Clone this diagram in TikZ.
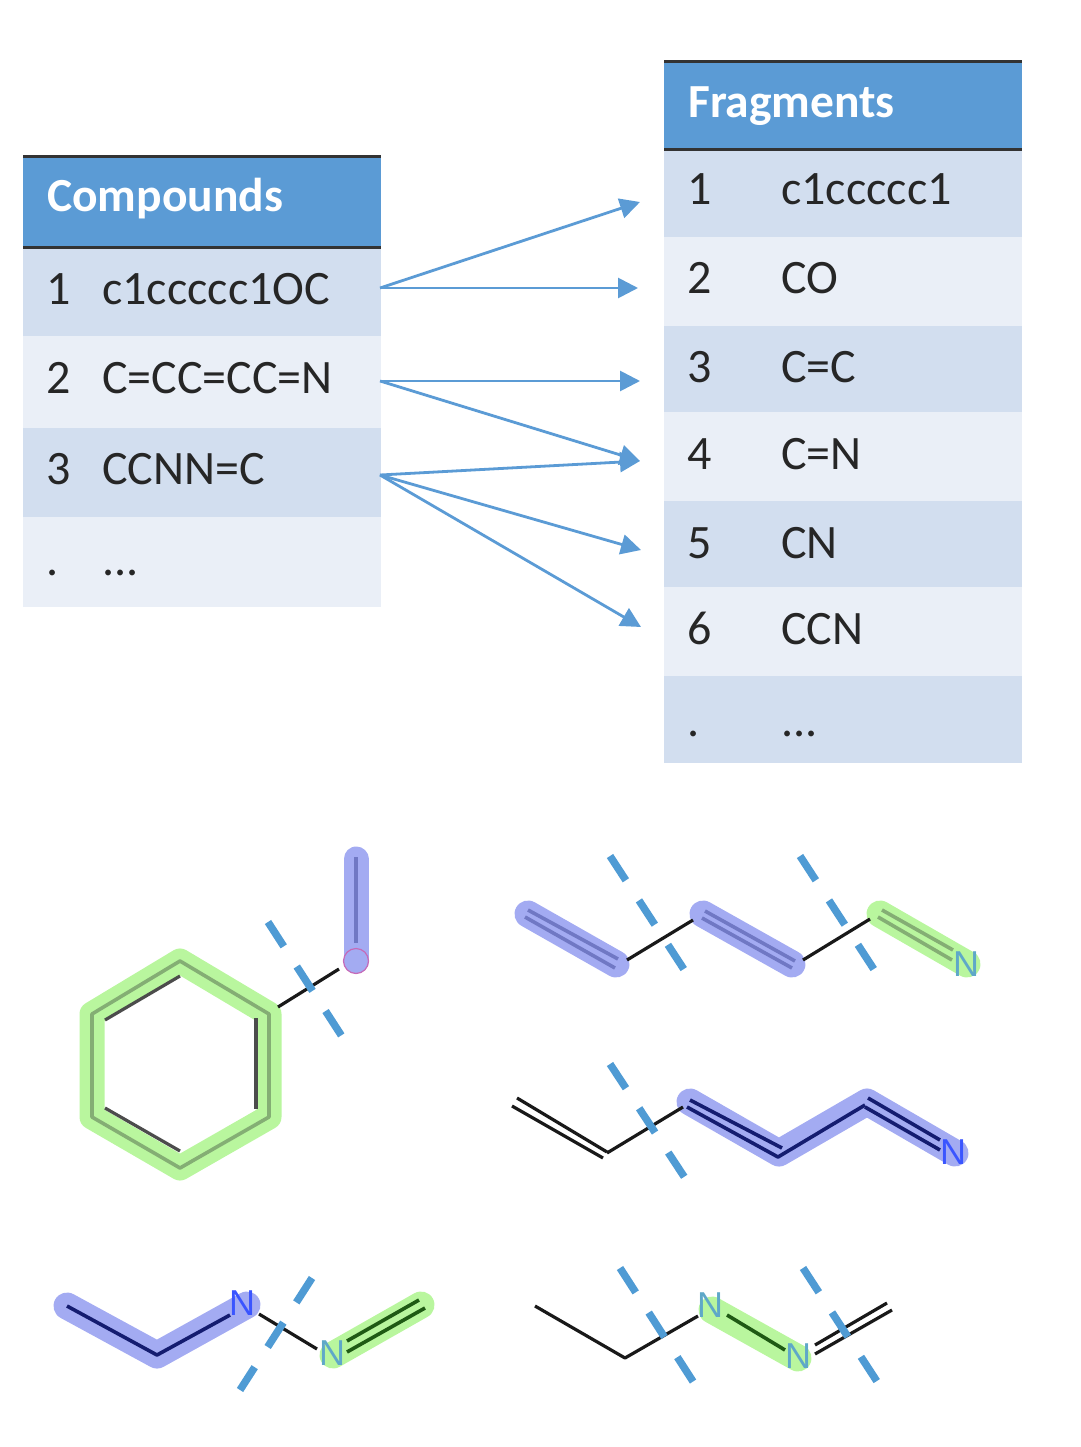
\documentclass[tikz,border=0pt]{standalone}
\usepackage{fontspec}
\setmainfont{Carlito}
\newfontfamily\atomfont{Liberation Sans}
\usepackage{tikz}
\usetikzlibrary{arrows.meta,positioning}
\definecolor{headblue}{HTML}{5B9BD5}
\definecolor{rowdk}{HTML}{D2DEEF}
\definecolor{rowlt}{HTML}{EAEFF7}
\definecolor{hlb}{HTML}{A3ABF2}
\definecolor{hlg}{HTML}{B9F69E}
\definecolor{cutblue}{HTML}{4F9BD4}
\definecolor{softblue}{HTML}{7078C4}
\definecolor{softgreen}{HTML}{84AE74}
\definecolor{navy}{HTML}{141C70}
\definecolor{darkgreen}{HTML}{1F5A14}
\definecolor{atomblue}{HTML}{3A55FF}
\definecolor{atomteal}{HTML}{5FA8C8}

\begin{document}
\begin{tikzpicture}[
    x=1pt, y=-1pt,
    head/.style={fill=headblue, minimum width=358pt, minimum height=91pt, inner sep=0pt, outer sep=0pt, anchor=north west},
    rowdark/.style={fill=rowdk, minimum width=358pt, inner sep=0pt, outer sep=0pt},
    rowlight/.style={fill=rowlt, minimum width=358pt, inner sep=0pt, outer sep=0pt},
    rule/.style={line width=3pt, draw=black!80},
    headtxt/.style={anchor=base west, inner sep=0pt, text=white, font=\fontsize{47.5}{50}\selectfont\bfseries},
    txt/.style={anchor=base west, inner sep=0pt, text=black!85, font=\fontsize{48}{50}\selectfont},
    arrow/.style={-{Triangle[length=20pt,width=20pt]}, line width=2.8pt, draw=headblue},
    bond/.style={line width=3.2pt, draw=black!90},
    bondblue/.style={line width=3.6pt, draw=softblue},
    bondnavy/.style={line width=3.6pt, draw=navy},
    bondgreen/.style={line width=3.6pt, draw=softgreen},
    bonddark/.style={line width=3.6pt, draw=darkgreen},
    hlblue/.style={line width=27pt, draw=hlb, line cap=round, line join=round},
    hlgreen/.style={line width=27pt, draw=hlg, line cap=round, line join=round},
    cut/.style={line width=7.5pt, draw=cutblue, dash pattern=on 29pt off 24pt},
    atom/.style={inner sep=0pt, font=\fontsize{36}{36}\selectfont\atomfont},
]
\useasboundingbox (0,0) rectangle (1080,1447);

% Compounds table
\node[head] (cmphead) at (23,157) {};
\node[rowdark, minimum height=88pt, below=0pt of cmphead] (cmp1) {};
\node[rowlight, minimum height=92pt, below=0pt of cmp1] (cmp2) {};
\node[rowdark, minimum height=89pt, below=0pt of cmp2] (cmp3) {};
\node[rowlight, minimum height=90pt, below=0pt of cmp3] (cmp4) {};
\draw[rule] (cmphead.north west) -- (cmphead.north east);
\draw[rule] (cmphead.south west) -- (cmphead.south east);
\node[headtxt] at (47,212) {Compounds};
\node[txt] at (46,304) {1};
\node[txt] at (102,304) {c1ccccc1OC};
\node[txt] at (46,393) {2};
\node[txt] at (102,393) {C=CC=CC=N};
\node[txt] at (46,484) {3};
\node[txt] at (102,484) {CCNN=C};
\node[txt] at (46,575) {.};
\node[txt] at (102,575) {...};

% Fragments table
\node[head, minimum height=88pt] (frghead) at (664,62) {};
\node[rowdark, minimum height=87pt, below=0pt of frghead] (frg1) {};
\node[rowlight, minimum height=89pt, below=0pt of frg1] (frg2) {};
\node[rowdark, minimum height=86pt, below=0pt of frg2] (frg3) {};
\node[rowlight, minimum height=89pt, below=0pt of frg3] (frg4) {};
\node[rowdark, minimum height=86pt, below=0pt of frg4] (frg5) {};
\node[rowlight, minimum height=89pt, below=0pt of frg5] (frg6) {};
\node[rowdark, minimum height=87pt, below=0pt of frg6] (frg7) {};
\draw[rule] (frghead.north west) -- (frghead.north east);
\draw[rule] (frghead.south west) -- (frghead.south east);
\node[headtxt] at (688,118) {Fragments};
\node[txt] at (687,205) {1};
\node[txt] at (781,205) {c1ccccc1};
\node[txt] at (687,293) {2};
\node[txt] at (781,293) {CO};
\node[txt] at (687,382) {3};
\node[txt] at (781,382) {C=C};
\node[txt] at (687,469) {4};
\node[txt] at (781,469) {C=N};
\node[txt] at (687,558) {5};
\node[txt] at (781,558) {CN};
\node[txt] at (687,644) {6};
\node[txt] at (781,644) {CCN};
\node[txt] at (687,736) {.};
\node[txt] at (781,736) {...};

% Arrows between the tables
\coordinate (src1) at (380,288);
\coordinate (src2) at (380,381);
\coordinate (src3) at (380,475);
\coordinate (dst1) at (640,202);
\coordinate (dst2) at (638,288);
\coordinate (dst3) at (640,381);
\coordinate (dst4) at (640,461);
\coordinate (dst5) at (641,550);
\coordinate (dst6) at (641,627);
\draw[arrow] (src1) -- (dst1);
\draw[arrow] (src1) -- (dst2);
\draw[arrow] (src2) -- (dst3);
\draw[arrow] (src2) -- (dst4);
\draw[arrow] (src3) -- (dst4);
\draw[arrow] (src3) -- (dst5);
\draw[arrow] (src3) -- (dst6);

% Ring with cut bond
\draw[hlgreen, line width=25pt] (180,961) -- (269,1014) -- (269,1117) -- (180,1168) -- (92,1117) -- (92,1014) -- cycle;
\draw[hlblue, line width=25pt] (356,859) -- (356,961);
\draw[bondgreen, line join=round] (180,961) -- (269,1014) -- (269,1117) -- (180,1168) -- (92,1117) -- (92,1014) -- cycle;
\draw[bond, black!70] (105,1020) -- (180,976);
\draw[bond, black!70] (256,1018) -- (256,1109);
\draw[bond, black!70] (105,1108) -- (180,1151);
\draw[bond] (278,1007) -- (339,969);
\draw[bondblue] (356,857) -- (356,943);
\node[circle, draw=magenta!40!hlb, fill=hlb, line width=1.2pt, minimum size=25pt, inner sep=0pt] (oxy) at (356,961) {};
\draw[cut] (268,922) -- (343,1038);

% Lower left chain
\draw[hlblue] (67,1306) -- (157,1355) -- (247,1305);
\draw[hlgreen] (333,1355) -- (421,1305);
\draw[bondnavy, line join=round] (67,1306) -- (157,1355) -- (230,1315);
\draw[bond] (259,1314) -- (317,1349);
\draw[bonddark] (347,1341) -- (419,1300);
\draw[bonddark] (347,1352) -- (425,1308);
\node[atom, text=atomblue] (n1a) at (242,1303) {N};
\node[atom, text=atomteal] (n1b) at (332,1353) {N};
\draw[cut] (312,1278) -- (240,1390);

% Top right chain
\draw[hlblue] (528,914) -- (616,964);
\draw[hlblue] (703,914) -- (792,964);
\draw[hlgreen] (880,914) -- (967,964);
\draw[bondblue] (528,910) -- (618,959);
\draw[bondblue] (525,917) -- (615,968);
\draw[bond] (627,960) -- (693,920);
\draw[bondblue] (705,911) -- (795,961);
\draw[bondblue] (702,918) -- (792,968);
\draw[bond] (803,960) -- (870,919);
\draw[bondgreen] (882,910) -- (953,950);
\draw[bondgreen] (878,917) -- (952,960);
\node[atom, text=atomteal] (n2) at (966,964) {N};
\draw[cut] (610,856) -- (685,971);
\draw[cut] (800,856) -- (875,971);

% Middle right chain
\draw[hlblue] (690,1102) -- (779,1153) -- (867,1102) -- (955,1153);
\draw[bond] (517,1098) -- (607,1152);
\draw[bond] (512,1106) -- (603,1158);
\draw[bond] (607,1153) -- (683,1107);
\draw[bondnavy] (690,1100) -- (782,1148);
\draw[bondnavy, line join=round] (687,1107) -- (778,1157) -- (865,1105);
\draw[bondnavy] (868,1098) -- (940,1140);
\draw[bondnavy] (865,1107) -- (940,1150);
\node[atom, text=atomblue] (n3) at (953,1152) {N};
\draw[cut] (610,1064) -- (685,1178);

% Bottom right chain
\draw[hlgreen] (712,1310) -- (798,1358);
\draw[bond, line join=round] (535,1306) -- (625,1358) -- (698,1316);
\draw[bonddark] (727,1315) -- (785,1350);
\draw[bond] (815,1345) -- (887,1303);
\draw[bond] (815,1354) -- (892,1310);
\node[atom, text=atomteal] (n4a) at (710,1305) {N};
\node[atom, text=atomteal] (n4b) at (798,1356) {N};
\draw[cut] (620,1268) -- (694,1383);
\draw[cut] (803,1268) -- (878,1383);
\end{tikzpicture}
\end{document}
